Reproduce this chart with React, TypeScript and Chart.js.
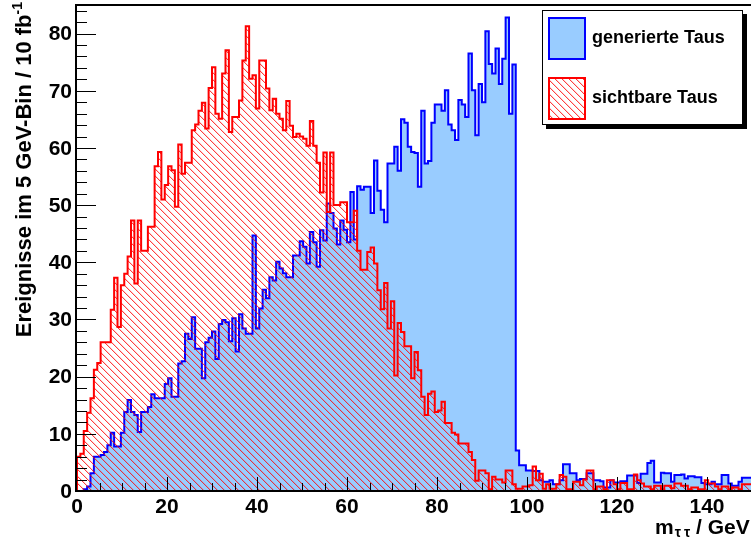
import React, { useEffect, useRef } from "react";
import { Chart, registerables } from "chart.js";

Chart.register(...registerables);

// ---- data -------------------------------------------------------------
const BIN_WIDTH = 0.75; // GeV per bin (200 bins, 0..150 GeV)
const X_MIN = 0;
const X_MAX = 150;
const Y_MAX = 85;

// generierte Taus (blue, filled)
const generierte: number[] = [
  0, 0, 0, 0.3, 0.8, 3.1, 6, 6, 6.3, 6.8,
  8, 10.2, 7.8, 7.8, 10.2, 13.8, 15.9, 13.8, 13.3, 10.3,
  13.8, 13.8, 14.7, 16.9, 16.2, 16.2, 16.2, 18.7, 19.7, 16.5,
  16.5, 22.3, 22.7, 27.5, 26.6, 30.4, 24.9, 24.9, 19.7, 26,
  26.8, 27.9, 23.1, 29.2, 29.9, 29.5, 26.2, 30.2, 24.4, 30.9,
  28.4, 27.5, 27.5, 44.7, 28.4, 31.9, 35.2, 33.7, 37.4, 36.8,
  40.1, 38.9, 38.1, 37.4, 37.4, 41.2, 41.2, 43.7, 42.7, 39.8,
  45.3, 43.5, 39.2, 45.6, 43.8, 50.3, 48.6, 45.9, 43.1, 47.3,
  45.7, 43.5, 52.3, 44, 53.3, 52.7, 53.2, 53.2, 48.6, 57.8,
  52.5, 49.2, 47, 57.3, 57.3, 60.2, 56, 65, 64.4, 60.2,
  59.3, 59.1, 53.2, 66.5, 57.3, 57.7, 64.4, 67.6, 67.6, 66.5,
  70.1, 64.1, 63.1, 61.4, 68.4, 67.6, 65.4, 76.5, 70.1, 62.2,
  71.2, 68, 80.4, 74.7, 73, 77.4, 71.2, 75.6, 82.8, 66,
  74.6, 7.1, 4.5, 4.5, 3.6, 3.6, 3.5, 3.5, 1.9, 1.6,
  1.6, 1.9, 1.2, 1.2, 1.9, 4.7, 4.7, 3.1, 3.1, 1.9,
  2.1, 2.1, 3.1, 3.1, 1.9, 1.9, 1.7, 0.6, 0.6, 1.9,
  1.5, 1.5, 1.7, 1.7, 2.7, 2.7, 2.7, 1.4, 3.0, 3.0,
  4.9, 5.3, 1.5, 1.5, 3.2, 3.1, 3.1, 1.6, 2.8, 2.8,
  2.9, 2.2, 2.6, 2.6, 2.4, 2.4, 1.4, 1.2, 1.2, 1.6,
  1.2, 1.2, 2.8, 2.8, 1.3, 0.9, 0.9, 1.6, 2.3, 2.3,
];

// sichtbare Taus (red, hatched)
const sichtbare: number[] = [
  0.5, 6, 6.5, 10.5, 13.7, 16.2, 21.2, 22.4, 26, 26,
  26, 31.7, 37.3, 28.7, 36, 38, 41, 47.3, 36.3, 47.3,
  42, 42, 46.2, 46.2, 56.8, 59.3, 51, 53.5, 56.8, 56.1,
  49.7, 60.6, 55.5, 57.4, 57.4, 63.1, 64.1, 66.5, 67.9, 63.4,
  70.5, 74.1, 66, 65.1, 73, 77.1, 62.8, 65.4, 65.4, 68.3,
  75.3, 81.3, 72.1, 72.7, 66.9, 75.3, 75.3, 70.4, 66.6, 68.6,
  66, 65.1, 63.1, 68.2, 63.9, 61.9, 62.5, 62, 61.6, 60.4,
  64.7, 60.4, 57.4, 52.2, 59.2, 48.8, 59.2, 50, 50, 50.5,
  50.5, 47, 47, 49, 42, 38.7, 38.7, 41.8, 42.6, 39.8,
  35.1, 31.8, 36.4, 28.4, 33.2, 20.2, 29.4, 27.8, 25.3, 25.3,
  19.7, 24.3, 21.1, 16.5, 13.3, 17, 17.4, 13.8, 14.1, 15.6,
  11.9, 11.9, 10.2, 9.9, 8.3, 8.3, 8.3, 6.8, 5.4, 1.8,
  3.6, 3.6, 3.1, 0.3, 2.5, 2.0, 2.0, 1.5, 3.6, 3.6,
  1.2, 0.4, 0.4, 0.8, 0.8, 1, 4.3, 1.9, 3, 0.4,
  1.2, 0.4, 0.4, 1.2, 2.8, 2.5, 0.3, 0.3, 1.6, 1.6,
  1, 2, 3.6, 3.6, 0.3, 0.8, 0.8, 0.3, 1.9, 1.9,
  1.2, 0.3, 1.4, 1.4, 0.3, 0.3, 2.9, 1.9, 1.3, 0.8,
  0.8, 0.3, 0.9, 0.9, 0.3, 0.9, 0.9, 0.5, 1.3, 1.3,
  0.9, 0.9, 0.3, 0.6, 0.6, 0.3, 0.3, 1.9, 1.3, 1.3,
  0.8, 0.3, 0.8, 0.8, 0.3, 0.6, 0.6, 0.3, 1.2, 1.2,
];

const yTickLabels: number[] = [0, 10, 20, 30, 40, 50, 60, 70, 80];
const xTickLabels: number[] = [0, 20, 40, 60, 80, 100, 120, 140];
const seriesNames: string[] = ["generierte Taus", "sichtbare Taus"];
const yTitle = "Ereignisse im 5 GeV-Bin / 10 fb";
const yTitleSup = "-1";
const xTitleMain = "m";
const xTitleSub = "τ";
const xTitleRest = " / GeV";

// ---- styles -----------------------------------------------------------
const BLUE_LINE = "#0000ff";
const BLUE_FILL = "#99ccff";
const RED_LINE = "#ff0000";
const FONT = '"Liberation Sans", Arial, Helvetica, sans-serif';

function histPoints(vals: number[]) {
  const pts: { x: number; y: number }[] = [{ x: 0, y: 0 }];
  vals.forEach((v, i) => pts.push({ x: i * BIN_WIDTH, y: v }));
  pts.push({ x: vals.length * BIN_WIDTH, y: vals[vals.length - 1] });
  pts.push({ x: vals.length * BIN_WIDTH, y: 0 });
  return pts;
}

function makeHatch(): CanvasPattern | string {
  const c = document.createElement("canvas");
  c.width = 7;
  c.height = 7;
  const g = c.getContext("2d");
  if (!g) return "rgba(255,0,0,0.3)";
  for (let i = 0; i < 7; i++) {
    g.fillStyle = "rgba(255,0,0,0.75)";
    g.fillRect(i, i, 1, 1);
    g.fillStyle = "rgba(255,0,0,0.18)";
    g.fillRect((i + 1) % 7, i, 1, 1);
  }
  return g.createPattern(c, "repeat") ?? "rgba(255,0,0,0.3)";
}

export default function App() {
  const ref = useRef<HTMLCanvasElement | null>(null);

  useEffect(() => {
    const canvas = ref.current;
    if (!canvas) return;
    const hatch = makeHatch();

    const rootAxes = {
      id: "rootAxes",
      afterDraw(chart: any) {
        const { ctx, chartArea, scales } = chart;
        const { left, right, top, bottom } = chartArea;
        const xs = scales.x;
        const ys = scales.y;
        ctx.save();

        // ticks (inside)
        ctx.strokeStyle = "#000";
        ctx.lineWidth = 1;
        ctx.beginPath();
        for (let v = 2; v < Y_MAX; v += 2) {
          const yp = Math.round(ys.getPixelForValue(v)) + 0.5;
          const len = v % 10 === 0 ? 19 : 10;
          ctx.moveTo(left, yp);
          ctx.lineTo(left + len, yp);
        }
        for (let g = 5; g <= X_MAX; g += 5) {
          const xp = Math.round(xs.getPixelForValue(g)) + 0.5;
          const len = g % 20 === 0 ? 13 : 7;
          ctx.moveTo(xp, bottom - 1);
          ctx.lineTo(xp, bottom - 1 - len);
        }
        ctx.stroke();

        // frame
        ctx.lineWidth = 2;
        ctx.beginPath();
        ctx.moveTo(left - 1, bottom + 1);
        ctx.lineTo(left - 1, top - 1);
        ctx.moveTo(left - 2, top);
        ctx.lineTo(right + 2, top);
        ctx.moveTo(left - 2, bottom);
        ctx.lineTo(right + 2, bottom);
        ctx.stroke();

        // tick labels
        ctx.fillStyle = "#000";
        ctx.font = `bold 21px ${FONT}`;
        ctx.textAlign = "right";
        ctx.textBaseline = "middle";
        yTickLabels.forEach((v) => {
          ctx.fillText(String(v), left - 5, ys.getPixelForValue(v) + 1);
        });
        ctx.textAlign = "center";
        ctx.textBaseline = "alphabetic";
        xTickLabels.forEach((v) => {
          ctx.fillText(String(v), xs.getPixelForValue(v), bottom + 22);
        });

        // y title (rotated, aligned to top)
        ctx.save();
        ctx.translate(31, top - 3);
        ctx.rotate(-Math.PI / 2);
        ctx.font = `bold 22px ${FONT}`;
        const wMain = ctx.measureText(yTitle).width;
        ctx.font = `bold 14px ${FONT}`;
        const wSup = ctx.measureText(yTitleSup).width;
        ctx.textAlign = "left";
        ctx.font = `bold 22px ${FONT}`;
        ctx.fillText(yTitle, -(wMain + wSup), 0);
        ctx.font = `bold 14px ${FONT}`;
        ctx.fillText(yTitleSup, -wSup, -9);
        ctx.restore();

        // x title
        ctx.textAlign = "left";
        ctx.textBaseline = "alphabetic";
        let xt = right - 97;
        const yb = bottom + 43;
        ctx.font = `bold 21px ${FONT}`;
        ctx.fillText(xTitleMain, xt, yb);
        xt += ctx.measureText(xTitleMain).width + 1;
        ctx.font = `bold 14px ${FONT}`;
        ctx.fillText(xTitleSub, xt, yb + 3);
        xt += ctx.measureText(xTitleSub).width + 3;
        ctx.fillText(xTitleSub, xt, yb + 3);
        xt += ctx.measureText(xTitleSub).width;
        ctx.font = `bold 21px ${FONT}`;
        ctx.fillText(xTitleRest, xt, yb);

        // legend
        const L = right - 210;
        const T = top + 5;
        const W = 201;
        const H = 115;
        ctx.fillStyle = "#000";
        ctx.fillRect(L + 4, T + 4, W, H);
        ctx.fillStyle = "#fff";
        ctx.fillRect(L, T, W, H);
        ctx.lineWidth = 1;
        ctx.strokeStyle = "#000";
        ctx.strokeRect(L + 0.5, T + 0.5, W - 1, H - 1);

        const sw = { x: L + 7, w: 36, h: 41 };
        const rows = [T + 8, T + 68];
        ctx.lineWidth = 2;
        ctx.fillStyle = BLUE_FILL;
        ctx.fillRect(sw.x, rows[0], sw.w, sw.h);
        ctx.strokeStyle = BLUE_LINE;
        ctx.strokeRect(sw.x, rows[0], sw.w, sw.h);
        ctx.fillStyle = hatch as any;
        ctx.fillRect(sw.x, rows[1], sw.w, sw.h);
        ctx.strokeStyle = RED_LINE;
        ctx.strokeRect(sw.x, rows[1], sw.w, sw.h);

        ctx.fillStyle = "#000";
        ctx.font = `bold 18px ${FONT}`;
        ctx.textAlign = "left";
        ctx.textBaseline = "middle";
        ctx.fillText(seriesNames[0], L + 50, rows[0] + sw.h / 2);
        ctx.fillText(seriesNames[1], L + 50, rows[1] + sw.h / 2);

        ctx.restore();
      },
    };

    const chart = new Chart(canvas, {
      type: "line",
      data: {
        datasets: [
          {
            label: seriesNames[1],
            data: histPoints(sichtbare),
            stepped: "after",
            borderColor: RED_LINE,
            borderWidth: 2,
            backgroundColor: hatch as any,
            fill: "origin",
            pointRadius: 0,
            tension: 0,
          },
          {
            label: seriesNames[0],
            data: histPoints(generierte),
            stepped: "after",
            borderColor: BLUE_LINE,
            borderWidth: 2,
            backgroundColor: BLUE_FILL,
            fill: "origin",
            pointRadius: 0,
            tension: 0,
          },
        ],
      },
      options: {
        animation: false,
        responsive: false,
        events: [],
        layout: { padding: { left: 77, right: 48, top: 5, bottom: 54 } },
        scales: {
          x: { type: "linear", min: X_MIN, max: X_MAX, display: false },
          y: { type: "linear", min: 0, max: Y_MAX, display: false },
        },
        plugins: {
          legend: { display: false },
          tooltip: { enabled: false },
        },
      },
      plugins: [rootAxes],
    });

    return () => chart.destroy();
  }, []);

  return (
    <div
      style={{
        position: "fixed",
        left: 0,
        top: 0,
        width: 751,
        height: 545,
        overflow: "hidden",
        background: "#fff",
      }}
    >
      <canvas ref={ref} width={800} height={545} style={{ display: "block" }} />
    </div>
  );
}
